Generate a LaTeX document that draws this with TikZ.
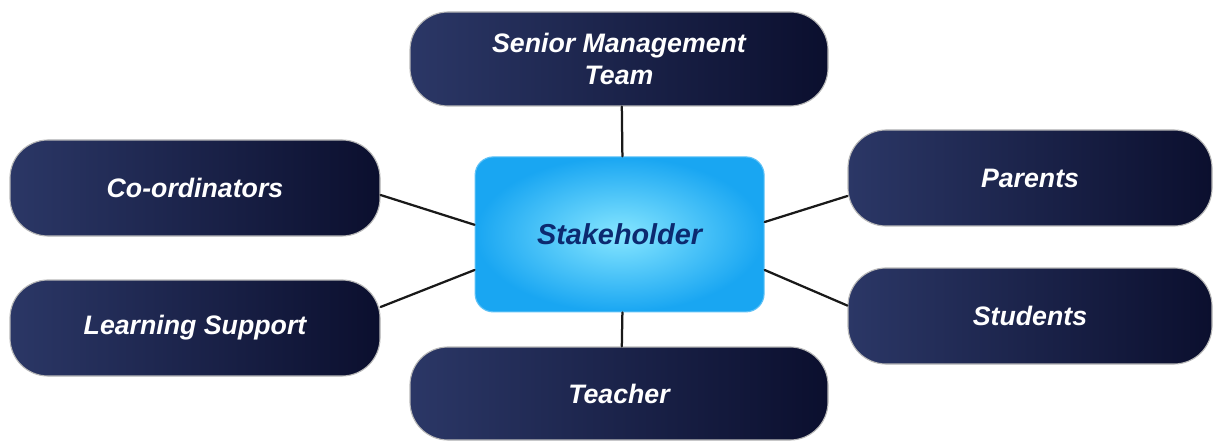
\documentclass[tikz,border=0pt]{standalone}
\usepackage{fontspec}
\setmainfont{Liberation Sans}
\definecolor{navyL}{HTML}{2B3766}
\definecolor{navyR}{HTML}{0B0F2E}
\definecolor{skyIn}{HTML}{86E6FF}
\definecolor{skyOut}{HTML}{19A6F2}
\definecolor{inkBlue}{HTML}{0C2A70}
\begin{document}
\begin{tikzpicture}[line join=round,line cap=round,
		group/.style={rounded corners=27pt,left color=navyL,right color=navyR,draw=gray!55,line width=0.8pt,
			text=white,font=\fontsize{19}{22.8}\selectfont\bfseries\itshape,align=center,inner sep=0pt},
		hub/.style={rounded corners=13pt,inner color=skyIn,outer color=skyOut,draw=skyOut!70!white,line width=0.8pt,
			text=inkBlue,font=\fontsize{20.5}{24}\selectfont\bfseries\itshape,minimum width=7.225cm,minimum height=3.875cm},
		link/.style={line width=1.6pt,black!90}]
	\useasboundingbox (0,0) rectangle (30.4,11.05);
	\node[hub] (sh) at (15.49,5.19) {Stakeholder};
	\node[group,minimum width=10.45cm,minimum height=2.35cm] (smt) at (15.475,9.575) {Senior Management\\Team};
	\node[group,minimum width=10.45cm,minimum height=2.325cm] (te) at (15.475,1.2125) {Teacher};
	\node[group,minimum width=9.25cm,minimum height=2.4cm] (co) at (4.875,6.35) {Co-ordinators};
	\node[group,minimum width=9.25cm,minimum height=2.4cm] (ls) at (4.875,2.85) {Learning Support};
	\node[group,minimum width=9.1cm,minimum height=2.4cm] (pa) at (25.75,6.6) {Parents};
	\node[group,minimum width=9.1cm,minimum height=2.4cm] (st) at (25.75,3.15) {Students};
	% spokes
	\draw[link] ([xshift=2pt]smt.south) -- ([xshift=2pt]sh.north);
	\draw[link] ([xshift=2pt]te.north) -- ([xshift=2pt]sh.south);
	\draw[link] ([yshift=-0.175cm]co.east) -- ([yshift=0.24cm]sh.west);
	\draw[link] ([yshift=0.525cm]ls.east) -- ([yshift=-0.89cm]sh.west);
	\draw[link] ([yshift=-0.45cm]pa.west) -- ([yshift=0.31cm]sh.east);
	\draw[link] ([yshift=0.26cm]st.west) -- ([yshift=-0.89cm]sh.east);
\end{tikzpicture}
\end{document}
